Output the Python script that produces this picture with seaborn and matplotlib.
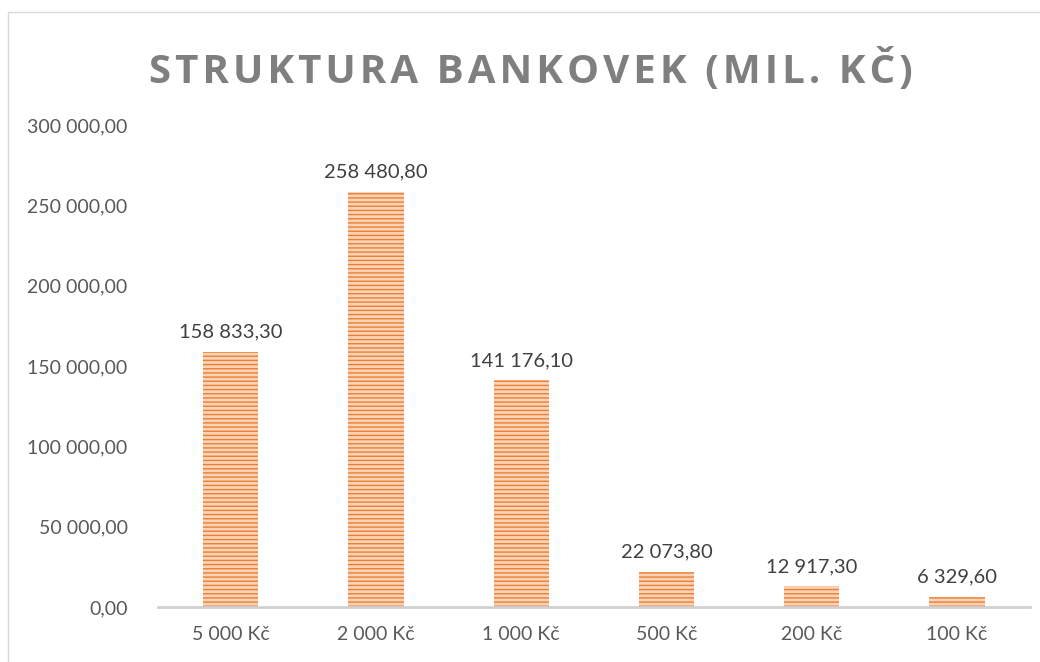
import matplotlib
matplotlib.use("Agg")
import matplotlib.pyplot as plt
import seaborn as sns
import pandas as pd
from matplotlib.patches import Rectangle

# data
denominations = ["5 000 Kč", "2 000 Kč", "1 000 Kč", "500 Kč", "200 Kč", "100 Kč"]
values = [158833.30, 258480.80, 141176.10, 22073.80, 12917.30, 6329.60]
yticks = [0, 50000, 100000, 150000, 200000, 250000, 300000]

def cz_fmt(v):
    s = f"{v:,.2f}"
    return s.replace(",", " ").replace(".", ",")

sns.set_theme(style="white")
plt.rcParams['font.family'] = ['Lato', 'DejaVu Sans']

df = pd.DataFrame({"nominal": denominations, "hodnota": values})

fig = plt.figure(figsize=(10.4, 6.62), dpi=100)
ax = fig.add_axes([0.152, 0.083, 0.838, 0.728])

sns.barplot(data=df, x="nominal", y="hodnota", ax=ax, width=0.38,
            color="#F9D3B8", edgecolor="#ED7D31", linewidth=0, saturation=1)
plt.rcParams['hatch.linewidth'] = 2.2
for p in ax.patches:
    p.set_hatch("----")
    p.set_edgecolor("#ED7D31")

for i, v in enumerate(values):
    ax.annotate(cz_fmt(v), (i, v), xytext=(0, 8), textcoords="offset points",
                ha="center", va="bottom", fontsize=14.5, color="#404040")

ax.set_ylim(0, 300000)
ax.set_xlim(-0.5, 5.5)
ax.set_yticks(yticks)
ax.set_yticklabels([cz_fmt(t) for t in yticks])
ax.tick_params(axis="y", labelsize=14, labelcolor="#595959", length=0, pad=22)
ax.tick_params(axis="x", labelsize=14, labelcolor="#595959", length=0, pad=14)
ax.set_xlabel("")
ax.set_ylabel("")
for s in ["top", "right", "left"]:
    ax.spines[s].set_visible(False)
ax.spines["bottom"].set_color("#D0D0D0")
ax.spines["bottom"].set_linewidth(2)

title = "STRUKTURA BANKOVEK (MIL. KČ)"
fig.text(0.51, 0.893, "\u200a".join(title), ha="center", va="center",
         fontsize=29, fontweight="bold", color="#7F7F7F",
         family=['Open Sans', 'DejaVu Sans'])

# chart border
fig.patches.append(Rectangle((8 / 1040, -0.1), 1.2, 0.1 + (662 - 12) / 662,
                             transform=fig.transFigure, fill=False,
                             edgecolor="#D9D9D9", linewidth=1))

fig.savefig("out.png", dpi=100)
